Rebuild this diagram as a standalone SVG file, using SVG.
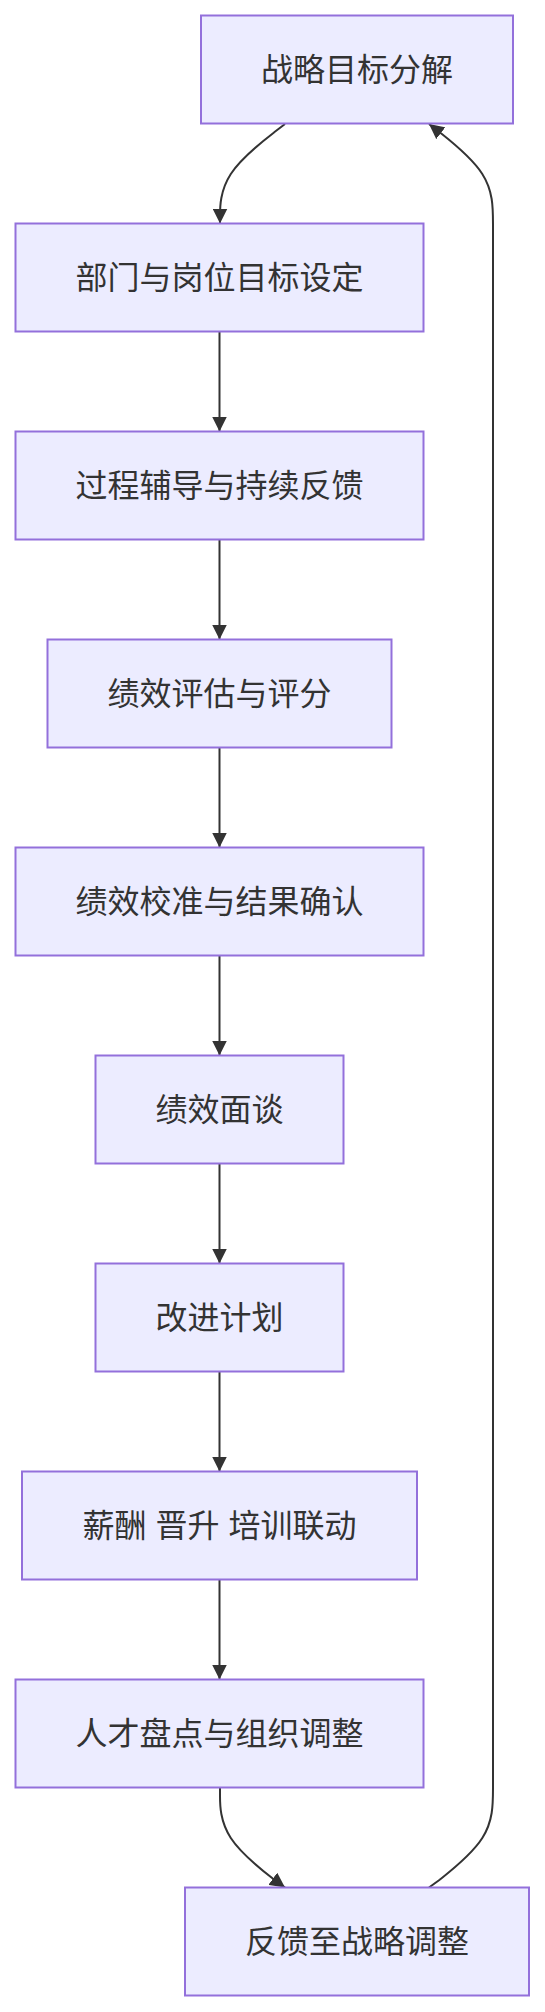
<svg xmlns="http://www.w3.org/2000/svg" width="545" height="2012" viewBox="0 0 545 2012">
<style>
.node rect{fill:#ECECFF;stroke:#9370DB;stroke-width:2}
.node text{font-family:"Liberation Sans","Noto Sans CJK SC",sans-serif;font-size:32px;fill:#333;text-anchor:middle;dominant-baseline:central}
.edges path{fill:none;stroke:#333;stroke-width:2}
</style>
<defs>
<marker id="arrow" viewBox="0 0 10 10" refX="10" refY="5" markerUnits="userSpaceOnUse" markerWidth="15" markerHeight="15" orient="auto">
<path d="M0,0 L10,5 L0,10 z" fill="#333"/>
</marker>
</defs>
<g class="edges">
<path d="M285,124 L274.2,132.3 C263.3,140.7 241.7,157.3 230.8,174 C220,190.7 220,207.3 220,215.7 L220,223.5" marker-end="url(#arrow)"/>
<path d="M219.5,331.5 L219.5,431.5" marker-end="url(#arrow)"/>
<path d="M219.5,539.5 L219.5,639.5" marker-end="url(#arrow)"/>
<path d="M219.5,747.5 L219.5,847.5" marker-end="url(#arrow)"/>
<path d="M219.5,955.5 L219.5,1055.5" marker-end="url(#arrow)"/>
<path d="M219.5,1163.5 L219.5,1263.5" marker-end="url(#arrow)"/>
<path d="M219.5,1371.5 L219.5,1471.5" marker-end="url(#arrow)"/>
<path d="M219.5,1579.5 L219.5,1679.5" marker-end="url(#arrow)"/>
<path d="M220,1787.5 L220,1796.3 C220,1804.7 220,1821.3 230.8,1838 C241.7,1854.7 263.3,1871.3 274.2,1879.7 L285,1887.5" marker-end="url(#arrow)"/>
<path d="M429,1887.5 L439.7,1879.7 C450.3,1871.3 471.7,1854.7 482.3,1838 C493,1821.3 493,1804.7 493,1788 L493,224 C493,207.3 493,190.7 482.3,174 C471.7,157.3 450.3,140.7 439.7,132.3 L429,124" marker-end="url(#arrow)"/>
</g>
<g id="n1" class="node"><rect x="201" y="15.5" width="312" height="108"/><text x="357" y="69.5">战略目标分解</text></g>
<g id="n2" class="node"><rect x="15.5" y="223.5" width="408" height="108"/><text x="219.5" y="277.5">部门与岗位目标设定</text></g>
<g id="n3" class="node"><rect x="15.5" y="431.5" width="408" height="108"/><text x="219.5" y="485.5">过程辅导与持续反馈</text></g>
<g id="n4" class="node"><rect x="47.5" y="639.5" width="344" height="108"/><text x="219.5" y="693.5">绩效评估与评分</text></g>
<g id="n5" class="node"><rect x="15.5" y="847.5" width="408" height="108"/><text x="219.5" y="901.5">绩效校准与结果确认</text></g>
<g id="n6" class="node"><rect x="95.5" y="1055.5" width="248" height="108"/><text x="219.5" y="1109.5">绩效面谈</text></g>
<g id="n7" class="node"><rect x="95.5" y="1263.5" width="248" height="108"/><text x="219.5" y="1317.5">改进计划</text></g>
<g id="n8" class="node"><rect x="22" y="1471.5" width="395" height="108"/><text x="219.5" y="1525.5" xml:space="preserve">薪酬 晋升 培训联动</text></g>
<g id="n9" class="node"><rect x="15.5" y="1679.5" width="408" height="108"/><text x="219.5" y="1733.5">人才盘点与组织调整</text></g>
<g id="n10" class="node"><rect x="185" y="1887.5" width="344" height="108"/><text x="357" y="1941.5">反馈至战略调整</text></g>
</svg>
